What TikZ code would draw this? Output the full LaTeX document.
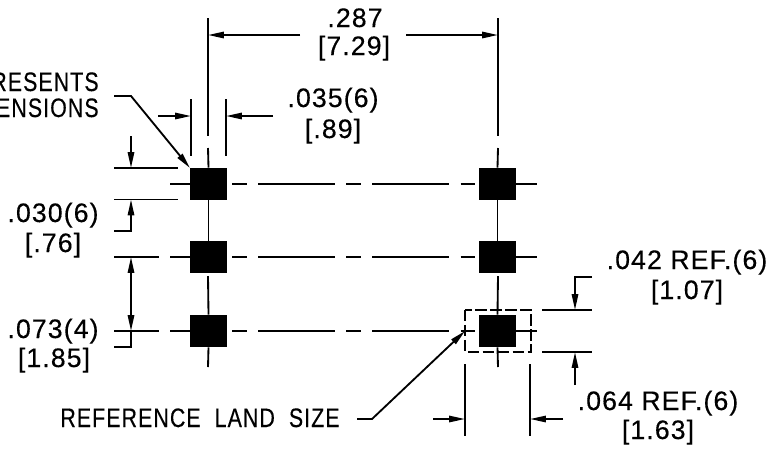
\documentclass[tikz,border=0pt]{standalone}
\usepackage{fontspec}
\setmainfont[LetterSpace=4,FakeBold=0.3]{Liberation Sans}
\newfontfamily\capsfont[LetterSpace=4,FakeBold=0.3,FakeStretch=0.8]{Liberation Sans}
\usetikzlibrary{arrows.meta}
\tikzset{
  dimline/.style={line width=1.05pt},
  dimarrow/.style={line width=1.05pt, -{Stealth[length=9pt,width=3.6pt,inset=0pt]}},
  dimboth/.style={line width=1.05pt, {Stealth[length=9pt,width=3.6pt,inset=0pt]}-{Stealth[length=9pt,width=3.6pt,inset=0pt]}},
  centerline/.style={line width=1.05pt, dash pattern=on 43.8pt off 6.3pt on 8pt off 6.8pt, dash phase=47.2pt},
  pad/.style={draw=none, fill=black, minimum width=0.74cm, minimum height=0.64cm, inner sep=0pt},
  dimtext/.style={font=\fontsize{15.2}{17}\selectfont, anchor=base, inner sep=0pt},
  notetext/.style={font=\fontsize{15.2}{17}\capsfont, anchor=base, inner sep=0pt}
}
\begin{document}
\begin{tikzpicture}[x=0.02cm, y=-0.02cm]
  \useasboundingbox (0,0) rectangle (771,451);
  % lands
  \node[pad] (land11) at (208.5,184) {};
  \node[pad] (land12) at (497.5,184) {};
  \node[pad] (land21) at (208.5,257) {};
  \node[pad] (land22) at (497.5,257) {};
  \node[pad] (land31) at (208.5,331) {};
  \node[pad] (land32) at (497.5,331) {};
  % center lines
  \draw[centerline] (land11.east) -- (land12.west);
  \draw[centerline] (land21.east) -- (land22.west);
  \draw[centerline] (land31.east) -- (land32.west);
  \draw[dimline] (land11.west) -- (170,184);
  \draw[dimline] (land21.west) -- (170,257);
  \draw[dimline] (land31.west) -- (170,331);
  \draw[dimline] (114,257) -- (159,257);
  \draw[dimline] (114,331) -- (159,331);
  \draw[dimline] (land12.east) -- (537,184);
  \draw[dimline] (land22.east) -- (537,257);
  \draw[dimline] (land32.east) -- (537,331);
  \draw[dimline] (208,18) -- (208,136);
  \draw[dimline] (208,148) -- (land11.north);
  \draw[dimline] (land11.south) -- (land21.north);
  \draw[dimline] (208,276) -- (land31.north);
  \draw[dimline] (land31.south) -- (208,367);
  \draw[dimline] (498,18) -- (498,136);
  \draw[dimline] (498,148) -- (land12.north);
  \draw[dimline] (land12.south) -- (land22.north);
  \draw[dimline] (498,276) -- (land32.north);
  \draw[dimline] (land32.south) -- (498,367);
  % reference land size box
  \draw[dimline, dash pattern=on 6.5pt off 2pt] (465,310) rectangle (531,352);
  % .287
  \draw[dimarrow] (300,35) -- (208,35);
  \draw[dimarrow] (406,35) -- (498,35);
  \node[dimtext] (wida) at (355,27) {.287};
  \node[dimtext] (widb) at (354,55) {[7.29]};
  % .035
  \draw[dimline] (191,99) -- (191,156);
  \draw[dimline] (226,99) -- (226,156);
  \draw[dimarrow] (158,116) -- (191,116);
  \draw[dimarrow] (273,116) -- (226,116);
  \node[dimtext] (landwa) at (333,107) {.035(6)};
  \node[dimtext] (landwb) at (333,138) {[.89]};
  % .030
  \draw[dimline] (114,168) -- (178,168);
  \draw[dimline] (114,199.5) -- (178,199.5);
  \draw[dimarrow] (131,136) -- (131,168);
  \draw[dimarrow] (114,231) -- (131,231) -- (131,199.5);
  \node[dimtext] (landha) at (53,222) {.030(6)};
  \node[dimtext] (landhb) at (53,252) {[.76]};
  % .073
  \draw[dimboth] (131,257) -- (131,331);
  \draw[dimline] (131,331) -- (131,347) -- (114,347);
  \node[dimtext] (pitcha) at (53,338) {.073(4)};
  \node[dimtext] (pitchb) at (54,367) {[1.85]};
  % .042
  \draw[dimline] (542,310) -- (592,310);
  \draw[dimline] (542,352) -- (592,352);
  \draw[dimarrow] (592,277) -- (575,277) -- (575,310);
  \draw[dimarrow] (575,385) -- (575,352);
  \node[dimtext] (refha) at (687,269) {.042\ REF.(6)};
  \node[dimtext] (refhb) at (687,299) {[1.07]};
  % .064
  \draw[dimline] (465,364) -- (465,436);
  \draw[dimline] (530,364) -- (530,436);
  \draw[dimarrow] (433,419) -- (465,419);
  \draw[dimarrow] (563,419) -- (530,419);
  \node[dimtext] (refwa) at (658,410) {.064\ REF.(6)};
  \node[dimtext] (refwb) at (658,439) {[1.63]};
  % leaders
  \node[notetext, anchor=base east] (notea) at (99,91) {RESENTS};
  \node[notetext, anchor=base east] (noteb) at (99,117) {ENSIONS};
  \draw[dimarrow] (114,96) -- (131,96) -- (190,168);
  \node[notetext] (reflabel) at (200,427) {REFERENCE\ \ LAND\ \ SIZE};
  \draw[dimarrow] (357,419) -- (372,419) -- (465,331);
\end{tikzpicture}
\end{document}
